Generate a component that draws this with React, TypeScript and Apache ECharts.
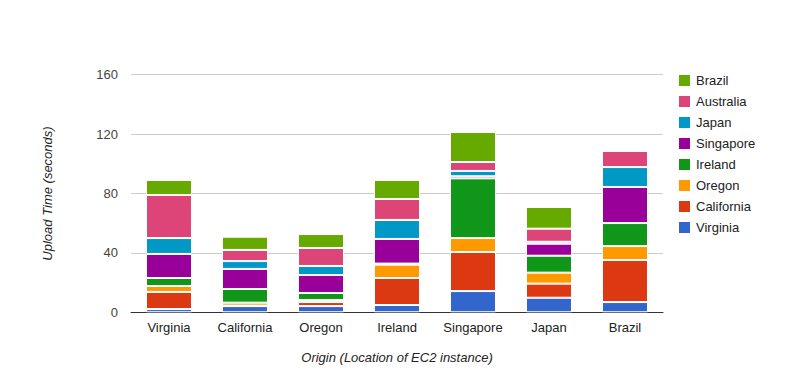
import React, { useEffect, useRef } from "react";
import * as echarts from "echarts";

const categories = ["Virginia", "California", "Oregon", "Ireland", "Singapore", "Japan", "Brazil"];
const seriesNames = ["Virginia", "California", "Oregon", "Ireland", "Singapore", "Japan", "Australia", "Brazil"];
const colors = ["#3366cc", "#dc3912", "#ff9900", "#109618", "#990099", "#0099c6", "#dd4477", "#66aa00"];

const virginia = [2.2, 4.2, 4.2, 4.9, 14.3, 9.8, 6.9];
const california = [11.5, 0.3, 2.7, 18.2, 26.3, 9.5, 28.3];
const oregon = [4.0, 2.0, 1.4, 9.0, 9.4, 7.4, 9.4];
const ireland = [5.4, 9.2, 4.7, 0.7, 40.2, 11.4, 15.5];
const singapore = [16.2, 13.5, 12.1, 16.6, 1.4, 8.1, 24.3];
const japan = [10.7, 5.3, 6.1, 12.8, 3.6, 1.3, 13.4];
const australia = [29.0, 7.5, 12.1, 14.1, 6.0, 8.8, 10.8];
const brazil = [10.1, 8.9, 9.4, 12.8, 20.2, 14.6, 1.4];

const seriesValues = [virginia, california, oregon, ireland, singapore, japan, australia, brazil];
const legendOrder = ["Brazil", "Australia", "Japan", "Singapore", "Ireland", "Oregon", "California", "Virginia"];
const yTicks = [0, 40, 80, 120, 160];

const FONT = "Arial, 'Liberation Sans', sans-serif";

export default function App() {
  const ref = useRef<HTMLDivElement>(null);
  useEffect(() => {
    if (!ref.current) return;
    const chart = echarts.init(ref.current, undefined, { renderer: "svg" });
    chart.setOption({
      animation: false,
      textStyle: { fontFamily: FONT },
      color: colors,
      grid: { left: 131, right: 131, top: 74.7, bottom: 74.7, containLabel: false },
      legend: {
        orient: "vertical",
        left: 677,
        top: 73,
        padding: 0,
        itemWidth: 13,
        itemHeight: 13,
        itemGap: 6,
        itemTextGap: 5,
        icon: "rect",
        data: legendOrder,
        textStyle: { fontFamily: FONT, fontSize: 13, color: "#222" },
      },
      xAxis: {
        type: "category",
        data: categories,
        name: "Origin (Location of EC2 instance)",
        nameLocation: "middle",
        nameGap: 39,
        nameTextStyle: { fontFamily: FONT, fontSize: 13, fontStyle: "italic", color: "#222" },
        axisLine: { lineStyle: { color: "#333", width: 1 } },
        axisTick: { show: false },
        axisLabel: { fontFamily: FONT, fontSize: 13, color: "#222", margin: 9, interval: 0 },
      },
      yAxis: {
        type: "value",
        min: yTicks[0],
        max: yTicks[yTicks.length - 1],
        interval: 40,
        name: "Upload Time (seconds)",
        nameLocation: "middle",
        nameGap: 77,
        nameTextStyle: { fontFamily: FONT, fontSize: 13, fontStyle: "italic", color: "#222" },
        axisLine: { show: false },
        axisTick: { show: false },
        axisLabel: { fontFamily: FONT, fontSize: 13, color: "#444", margin: 13 },
        splitLine: { lineStyle: { color: "#cccccc", width: 1 } },
      },
      series: seriesNames.map((name, si) => ({
        name,
        type: "bar",
        stack: "total",
        barWidth: "60.5%",
        itemStyle: { borderColor: "#ffffff", borderWidth: 1 },
        data: seriesValues[si].map((v, ci) => {
          const selfGray = (name === "Ireland" && categories[ci] === "Ireland") || (name === "Brazil" && categories[ci] === "Brazil");
          return selfGray ? { value: v, itemStyle: { color: "#aaaaa0" } } : v;
        }),
      })),
    });
    return () => chart.dispose();
  }, []);
  return <div ref={ref} style={{ width: 794, height: 387, position: "absolute", left: 0, top: 0 }} />;
}
